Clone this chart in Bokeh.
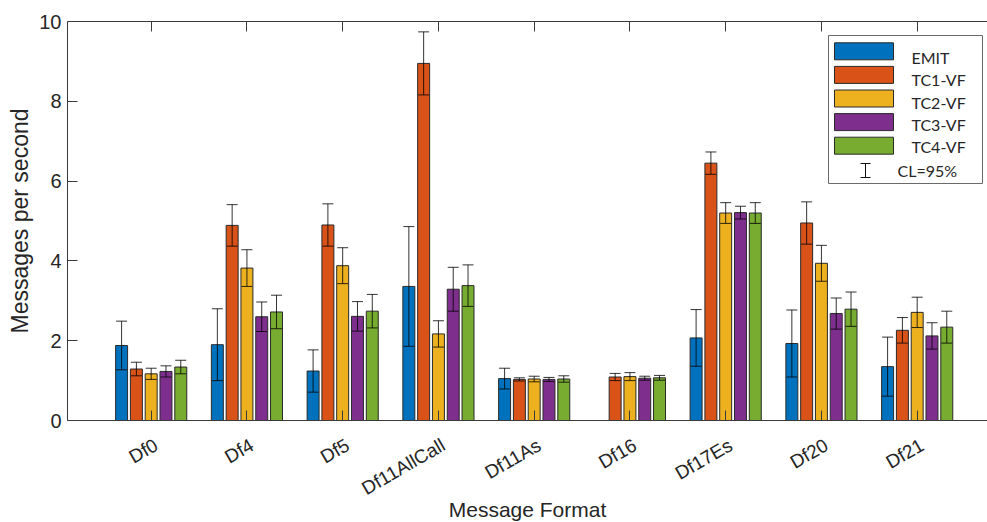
import math
from bokeh.plotting import figure
from bokeh.models import (Range1d, FixedTicker, LinearAxis, ColumnDataSource,
                          Whisker, TeeHead)
from bokeh.core.properties import value
from bokeh.embed import file_html
from bokeh.resources import INLINE

nan = float("nan")

# ---- data -------------------------------------------------------------
formats = ["Df0", "Df4", "Df5", "Df11AllCall", "Df11As", "Df16", "Df17Es", "Df20", "Df21"]
series = ["EMIT", "TC1-VF", "TC2-VF", "TC3-VF", "TC4-VF"]
colors = ["#0072BD", "#D95319", "#EDB120", "#7E2F8E", "#77AC30"]

emit = [1.88, 1.90, 1.24, 3.36, 1.05, nan, 2.07, 1.93, 1.35]
emit_ci = [0.61, 0.90, 0.53, 1.50, 0.26, nan, 0.71, 0.84, 0.74]
tc1 = [1.29, 4.89, 4.90, 8.95, 1.03, 1.09, 6.45, 4.95, 2.26]
tc1_ci = [0.17, 0.52, 0.53, 0.79, 0.04, 0.09, 0.28, 0.53, 0.32]
tc2 = [1.17, 3.82, 3.88, 2.17, 1.04, 1.10, 5.20, 3.94, 2.71]
tc2_ci = [0.14, 0.46, 0.45, 0.33, 0.07, 0.10, 0.26, 0.45, 0.38]
tc3 = [1.23, 2.60, 2.61, 3.29, 1.03, 1.06, 5.21, 2.68, 2.12]
tc3_ci = [0.14, 0.37, 0.37, 0.55, 0.05, 0.05, 0.16, 0.39, 0.33]
tc4 = [1.34, 2.72, 2.74, 3.38, 1.04, 1.07, 5.20, 2.79, 2.34]
tc4_ci = [0.17, 0.42, 0.42, 0.52, 0.08, 0.06, 0.26, 0.43, 0.40]

y_ticks = [0, 2, 4, 6, 8, 10]
x_title = "Message Format"
y_title = "Messages per second"
legend_note = "CL=95%"

means = [emit, tc1, tc2, tc3, tc4]
cis = [emit_ci, tc1_ci, tc2_ci, tc3_ci, tc4_ci]

# ---- layout -----------------------------------------------------------
FRAME_L, FRAME_T = 67, 21
FRAME_W, FRAME_H = 920, 399
PX_PER_CAT = 95.75
X0, X1 = 0.126, 0.126 + FRAME_W / PX_PER_CAT
Y0, Y1 = 0, 10
BAR_STEP = 0.1545
BAR_W = 0.125
LABEL_SHIFT_PX = 5          # category labels sit slightly right of their ticks
TITLE_CENTER_PX = 534       # horizontal centre of the x-axis title

AXIS_FONT = "Liberation Sans"
LEG_FONT = "Lato"
TEXT_COLOR = "#262626"
AXIS_COLOR = "#3a3a3a"
ERR_COLOR = "#000000"


def px_x(px):
    return X0 + (px - FRAME_L) / FRAME_W * (X1 - X0)


def px_y(py):
    return Y1 - (py - FRAME_T) / FRAME_H * (Y1 - Y0)


p = figure(frame_width=FRAME_W, frame_height=FRAME_H,
           x_range=Range1d(X0, X1), y_range=Range1d(Y0, Y1),
           output_backend="svg", toolbar_location=None,
           min_border_left=FRAME_L, min_border_right=0,
           min_border_top=FRAME_T, min_border_bottom=102)
p.outline_line_color = None
p.grid.visible = False
p.background_fill_color = "white"
p.border_fill_color = "white"

shift = LABEL_SHIFT_PX / PX_PER_CAT
p.extra_x_ranges = {"labels": Range1d(X0 - shift, X1 - shift)}

cat_pos = list(range(1, len(formats) + 1))

# ---- bars and confidence intervals -------------------------------------
for j, (vals, ci, col) in enumerate(zip(means, cis, colors)):
    xs = [c + (j - 2) * BAR_STEP for c in cat_pos]
    src = ColumnDataSource(dict(x=xs, top=vals))
    p.vbar(x="x", top="top", bottom=0, width=BAR_W, source=src,
           fill_color=col, line_color="#2a2a2a", line_width=1)
    wx, lo, hi = [], [], []
    for x, v, c in zip(xs, vals, ci):
        if not (math.isnan(v) or math.isnan(c)):
            wx.append(x)
            lo.append(v - c)
            hi.append(v + c)
    wsrc = ColumnDataSource(dict(base=wx, lower=lo, upper=hi))
    head = dict(size=11, line_color=ERR_COLOR, line_alpha=0.8, line_width=1)
    p.add_layout(Whisker(source=wsrc, base="base", lower="lower", upper="upper",
                         level="overlay",
                         line_color=ERR_COLOR, line_alpha=0.8, line_width=1,
                         upper_head=TeeHead(**head), lower_head=TeeHead(**head)))

# ---- axes ---------------------------------------------------------------
blank = {c: "" for c in cat_pos}

xa = p.xaxis[0]
xa.ticker = FixedTicker(ticks=cat_pos)
xa.major_label_overrides = blank
xa.major_label_text_font_size = "1px"
xa.major_label_standoff = 0
xa.minor_tick_line_color = None
xa.major_tick_in = 10
xa.major_tick_out = 0

# category names (and the axis title) on their own axis so they can be nudged
half_span = 394 / PX_PER_CAT
title_center = X0 - shift + (TITLE_CENTER_PX - FRAME_L) / PX_PER_CAT
label_axis = LinearAxis(x_range_name="labels", ticker=FixedTicker(ticks=cat_pos),
                        bounds=(title_center - half_span, title_center + half_span),
                        major_label_overrides={c: n for c, n in zip(cat_pos, formats)},
                        major_label_orientation=math.pi / 6,
                        major_label_standoff=23,
                        major_label_text_font_size="19px",
                        axis_label=x_title,
                        axis_label_standoff=-13,
                        axis_label_text_font_size="21px",
                        axis_line_color=None, major_tick_line_color=None,
                        minor_tick_line_color=None,
                        major_tick_in=0, major_tick_out=0)
p.add_layout(label_axis, "below")

ya = p.yaxis[0]
ya.ticker = FixedTicker(ticks=y_ticks)
ya.minor_tick_line_color = None
ya.major_tick_in = 10
ya.major_tick_out = 0
ya.axis_label = y_title
ya.major_label_standoff = 6
ya.major_label_text_font_size = "20px"
ya.axis_label_text_font_size = "23px"
ya.axis_label_standoff = 3

top_axis = LinearAxis(ticker=FixedTicker(ticks=cat_pos),
                      major_label_overrides=blank,
                      major_label_text_font_size="1px",
                      major_tick_in=10, major_tick_out=0,
                      minor_tick_line_color=None)
p.add_layout(top_axis, "above")

for ax in [xa, ya, top_axis, label_axis]:
    ax.major_label_text_color = TEXT_COLOR
    ax.major_label_text_font = AXIS_FONT
    ax.axis_label_text_font = AXIS_FONT
    ax.axis_label_text_color = TEXT_COLOR
    ax.axis_label_text_font_style = "normal"
for ax in [xa, ya, top_axis]:
    ax.axis_line_color = AXIS_COLOR
    ax.major_tick_line_color = AXIS_COLOR

# ---- legend -------------------------------------------------------------
p.quad(left=px_x(828), right=px_x(982), top=px_y(35), bottom=px_y(183),
       fill_color="white", line_color="#6a6a6a", line_width=1)
sw_top = [42.3 + 23.6 * i for i in range(5)]
p.quad(left=[px_x(834)] * 5, right=[px_x(893)] * 5,
       top=[px_y(t) for t in sw_top], bottom=[px_y(t + 17) for t in sw_top],
       fill_color=colors, line_color="#2a2a2a", line_width=1)
label_y = [57 + 22.3 * i for i in range(5)]
p.text(x=[px_x(911)] * 5, y=[px_y(t) for t in label_y], text=series,
       text_font=value(LEG_FONT), text_font_size="16px", text_color=TEXT_COLOR,
       text_baseline="middle", text_align="left")
# I-beam symbol for the confidence-interval entry
p.segment(x0=[px_x(865), px_x(860), px_x(860)],
          y0=[px_y(163), px_y(163), px_y(177)],
          x1=[px_x(865), px_x(870), px_x(870)],
          y1=[px_y(177), px_y(163), px_y(177)],
          line_color="#111111", line_width=1)
p.text(x=[px_x(897)], y=[px_y(170)], text=[legend_note],
       text_font=value(LEG_FONT), text_font_size="16px", text_color=TEXT_COLOR,
       text_baseline="middle", text_align="left")

open("out.html", "w").write(file_html(p, INLINE))
